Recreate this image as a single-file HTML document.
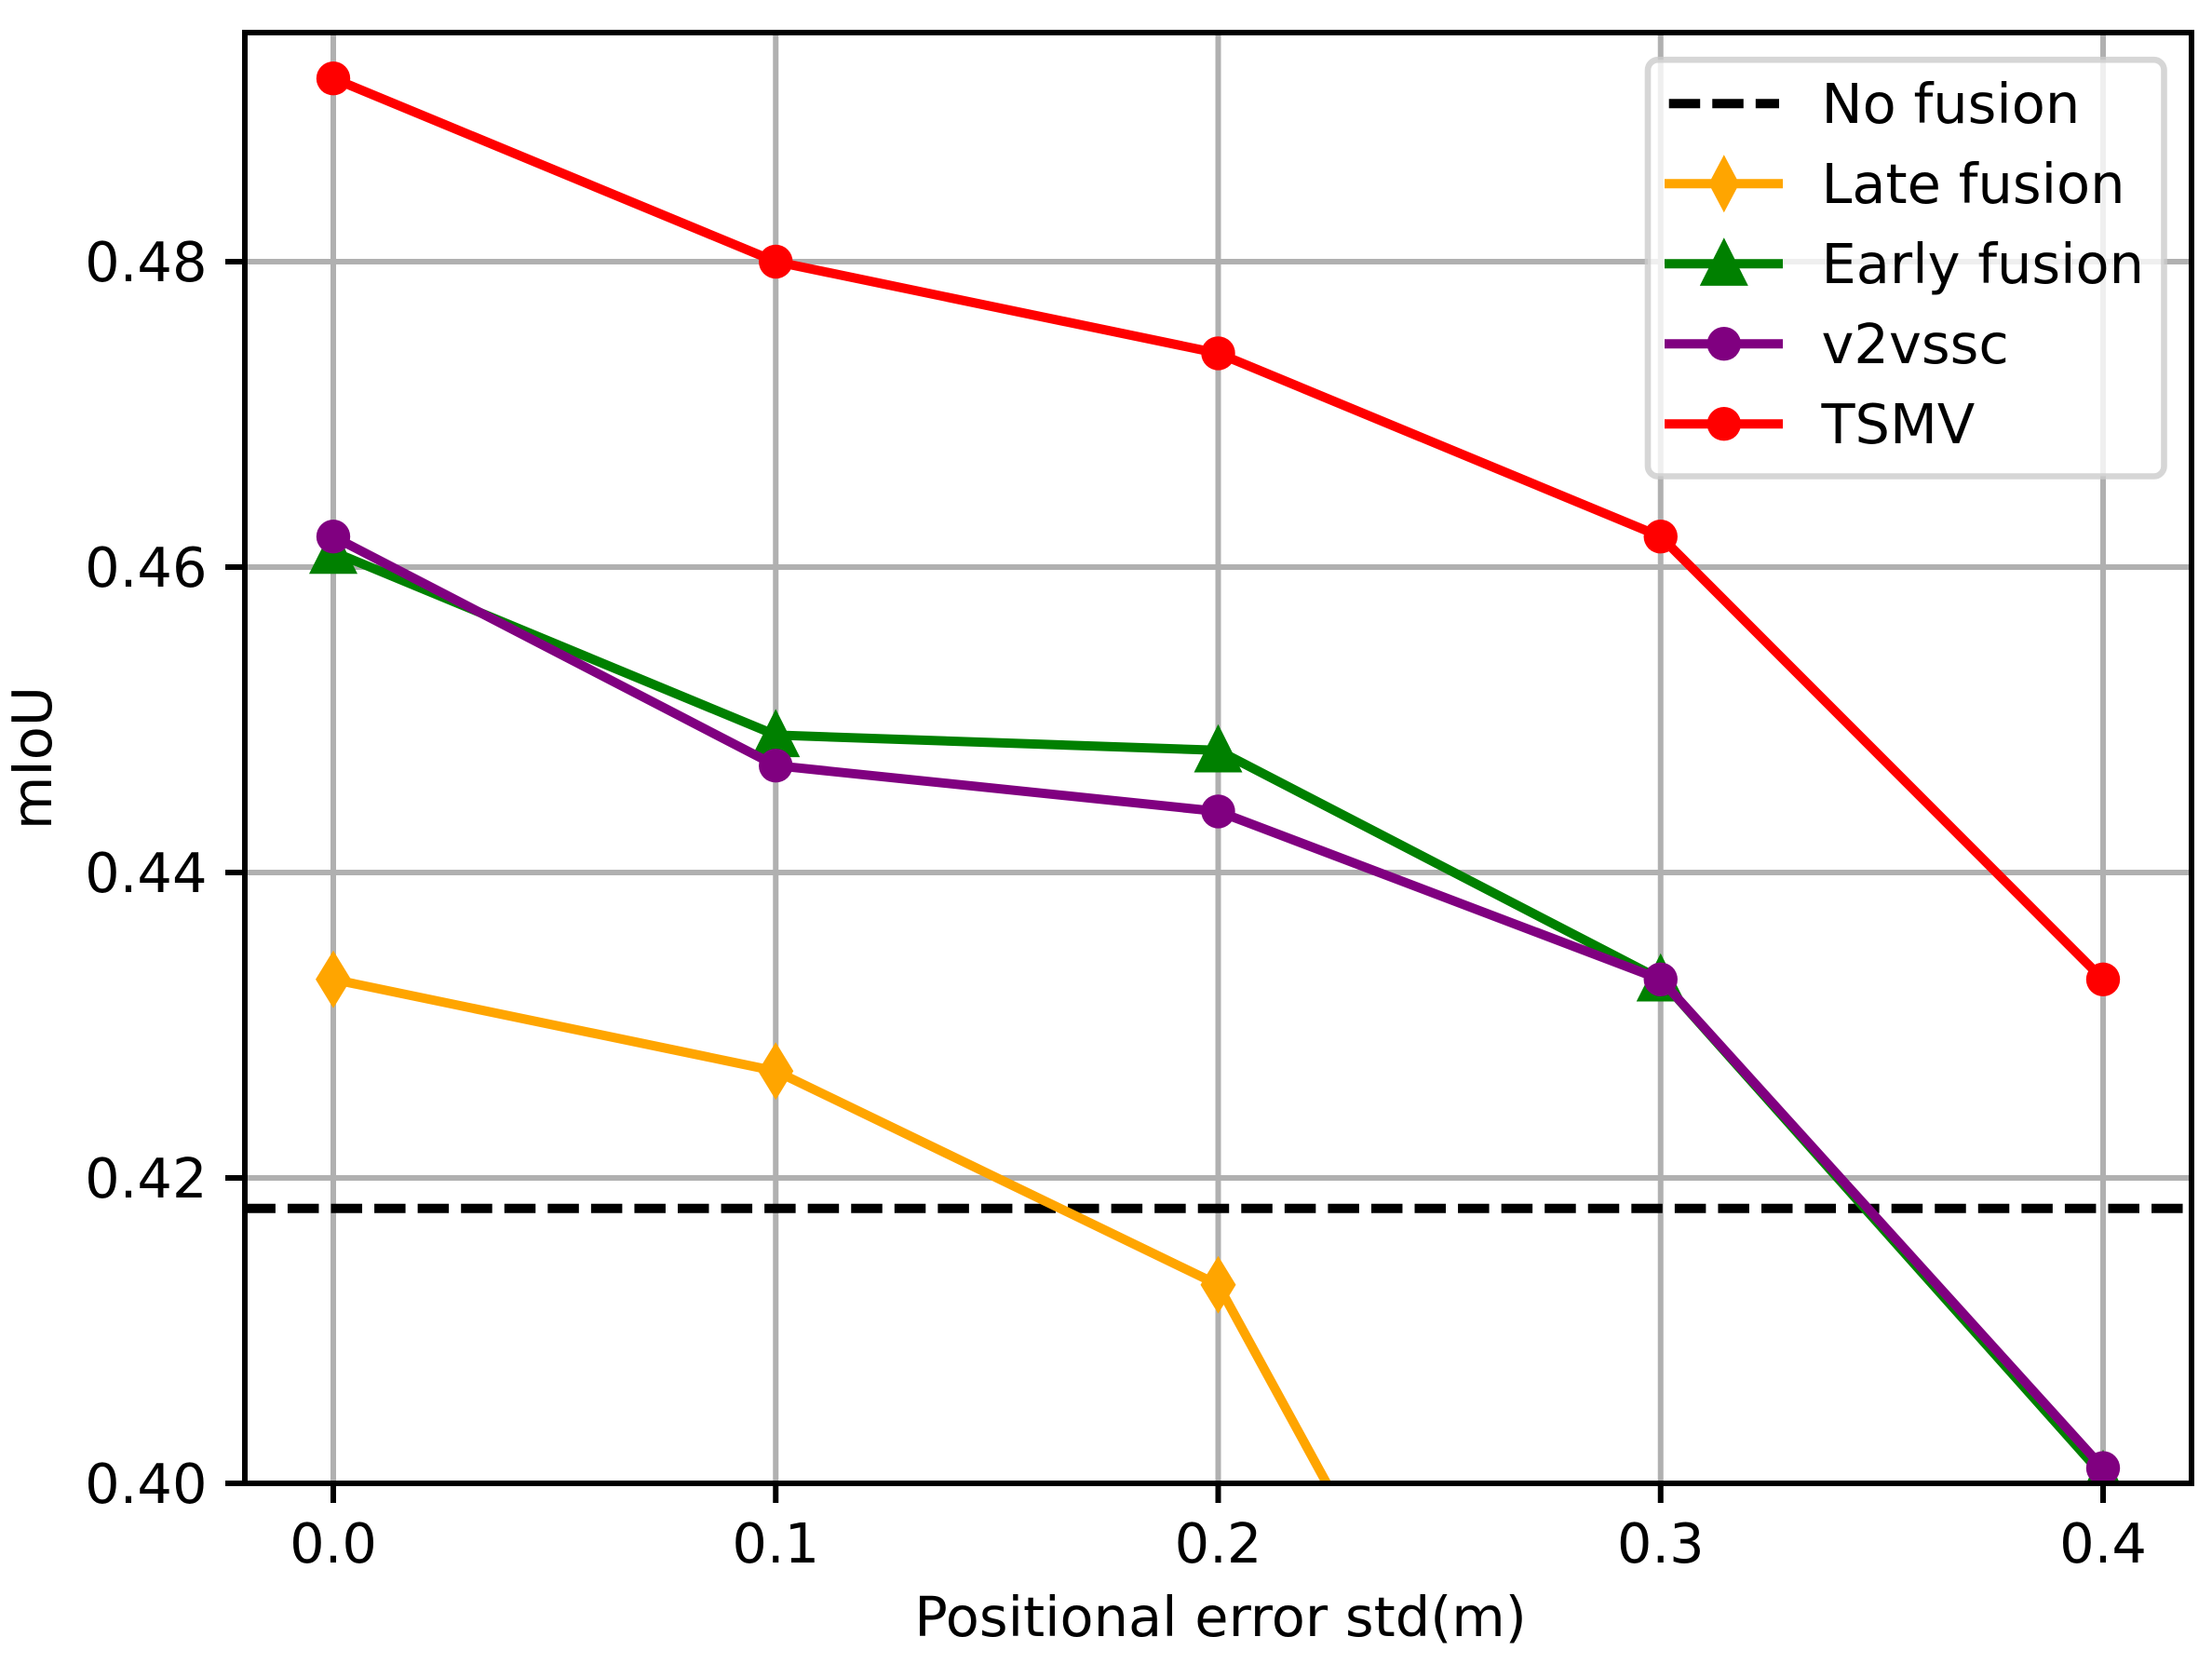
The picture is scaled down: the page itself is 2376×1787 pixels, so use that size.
<!DOCTYPE html>
<html lang="en">
<head>
<meta charset="utf-8">
<title>mIoU vs positional error</title>
<style>
html,body{margin:0;padding:0;background:#fff;width:2376px;height:1787px;overflow:hidden}
svg{display:block}
text{font-family:"DejaVu Sans","Liberation Sans",sans-serif;font-size:59px;fill:#000}
</style>
</head>
<body>
<svg id="chart" xmlns="http://www.w3.org/2000/svg" width="2376" height="1787" viewBox="0 0 2376 1787">
  <defs>
    <clipPath id="plot-clip"><rect x="263" y="35" width="2091" height="1558"></rect></clipPath>
  </defs>
  <rect x="263" y="35" width="2091" height="1558" fill="#fff"></rect>
  <g id="grid"></g>
  <g id="series" clip-path="url(#plot-clip)"></g>
  <g id="spines"></g>
  <g id="ticks"></g>
  <text x="1311" y="1757" text-anchor="middle">Positional error std(m)</text>
  <text transform="translate(55,814) rotate(-90)" text-anchor="middle">mIoU</text>
  <g id="legend"></g>
</svg>
<script>
const xValues = [0.0, 0.1, 0.2, 0.3, 0.4];
const xTickValues = [0.0, 0.1, 0.2, 0.3, 0.4];
const xTickLabels = ['0.0', '0.1', '0.2', '0.3', '0.4'];
const yTickValues = [0.40, 0.42, 0.44, 0.46, 0.48];
const yTickLabels = ['0.40', '0.42', '0.44', '0.46', '0.48'];
const noFusionValue = 0.418;
const lateFusion = [0.433, 0.427, 0.413, 0.36, 0.33];
const earlyFusion = [0.461, 0.449, 0.448, 0.433, 0.4005];
const v2vssc = [0.462, 0.447, 0.444, 0.433, 0.401];
const tsmv = [0.492, 0.48, 0.474, 0.462, 0.433];
const seriesNames = ['No fusion', 'Late fusion', 'Early fusion', 'v2vssc', 'TSMV'];

const NS = 'http://www.w3.org/2000/svg';
const plotLeft = 263, plotRight = 2354, plotTop = 35, plotBottom = 1593;
const xAt0 = 358, xPerUnit = 4752.5, yFloor = 0.40, yPerUnit = 16400;
const lineWidth = 10;
const dashPattern = '33.5 13.06';
function sx(v) { return xAt0 + v * xPerUnit; }
function sy(v) { return plotBottom - (v - yFloor) * yPerUnit; }
function el(tag, attrs, parent) {
  const n = document.createElementNS(NS, tag);
  for (const k in attrs) n.setAttribute(k, attrs[k]);
  parent.appendChild(n);
  return n;
}
function slug(s) { return s.toLowerCase().replace(/\s+/g, '-'); }
function marker(kind, cx, cy, color, parent, diamondHalfWidth) {
  if (kind === 'circle') return el('circle', { cx: cx, cy: cy, r: 18.2, fill: color }, parent);
  if (kind === 'diamond') return el('polygon', { points: [cx, cy - 31, cx + diamondHalfWidth, cy, cx, cy + 31, cx - diamondHalfWidth, cy].join(' '), fill: color }, parent);
  return el('polygon', { points: [cx, cy - 28, cx + 26, cy + 23.7, cx - 26, cy + 23.7].join(' '), fill: color }, parent);
}
/* Trim a series where it leaves through the bottom of the plot. */
function visiblePoints(values) {
  const out = [];
  for (let i = 0; i < values.length; i++) {
    if (values[i] >= yFloor) {
      out.push(sx(xValues[i]) + ',' + sy(values[i]));
    } else if (i > 0 && values[i - 1] >= yFloor) {
      const t = (values[i - 1] - yFloor) / (values[i - 1] - values[i]);
      out.push(sx(xValues[i - 1] + t * (xValues[i] - xValues[i - 1])) + ',' + sy(yFloor));
    }
  }
  return out.join(' ');
}

const grid = document.getElementById('grid');
const ticks = document.getElementById('ticks');
xTickValues.forEach(function (v, i) {
  const g = el('line', { x1: sx(v), x2: sx(v), y1: plotTop, y2: plotBottom, stroke: '#b0b0b0', 'stroke-width': 6 }, grid);
  
  
  const t = el('line', { x1: sx(v), x2: sx(v), y1: plotBottom, y2: plotBottom + 21, stroke: '#000', 'stroke-width': 6 }, ticks);
  
  
  const l = el('text', { x: sx(v), y: 1678, 'text-anchor': 'middle' }, ticks);
  
  
  l.textContent = xTickLabels[i];
});
yTickValues.forEach(function (v, i) {
  const g = el('line', { x1: plotLeft, x2: plotRight, y1: sy(v), y2: sy(v), stroke: '#b0b0b0', 'stroke-width': 6 }, grid);
  
  
  const t = el('line', { x1: plotLeft - 21, x2: plotLeft, y1: sy(v), y2: sy(v), stroke: '#000', 'stroke-width': 6 }, ticks);
  
  
  const l = el('text', { x: 222.5, y: sy(v) + 21, 'text-anchor': 'end' }, ticks);
  
  
  l.textContent = yTickLabels[i];
});

const seriesGroup = document.getElementById('series');
const noFusionLine = el('line', { x1: plotLeft - 0.6, x2: plotRight, y1: sy(noFusionValue), y2: sy(noFusionValue), stroke: '#000', 'stroke-width': lineWidth, 'stroke-dasharray': dashPattern }, seriesGroup);



const plotted = [
  { name: seriesNames[1], values: lateFusion, color: '#ffa500', kind: 'diamond' },
  { name: seriesNames[2], values: earlyFusion, color: '#008000', kind: 'triangle' },
  { name: seriesNames[3], values: v2vssc, color: '#800080', kind: 'circle' },
  { name: seriesNames[4], values: tsmv, color: '#ff0000', kind: 'circle' }
];
plotted.forEach(function (s) {
  const line = el('polyline', { points: visiblePoints(s.values), fill: 'none', stroke: s.color, 'stroke-width': lineWidth, 'stroke-linejoin': 'round' }, seriesGroup);
  
  
  s.values.forEach(function (v, i) {
    if (v < yFloor) return;
    const m = marker(s.kind, sx(xValues[i]), sy(v), s.color, seriesGroup, 19);
    
    
  });
});

const spines = document.getElementById('spines');
const frame = el('rect', { x: plotLeft, y: plotTop, width: plotRight - plotLeft, height: plotBottom - plotTop, fill: 'none', stroke: '#000', 'stroke-width': 6 }, spines);



const legend = document.getElementById('legend');
const box = el('rect', { x: 1770, y: 64.2, width: 554.5, height: 447.3, rx: 11, ry: 11, fill: '#fff', 'fill-opacity': 0.8, stroke: '#ccc', 'stroke-opacity': 0.8, 'stroke-width': 6.6 }, legend);


const legendColors = ['#000', '#ffa500', '#008000', '#800080', '#ff0000'];
const legendKinds = [null, 'diamond', 'triangle', 'circle', 'circle'];
seriesNames.forEach(function (name, i) {
  const y = 111.2 + i * 86;
  const attrs = i === 0
    ? { x1: 1792.7, x2: 1911, y1: y, y2: y, stroke: legendColors[i], 'stroke-width': lineWidth, 'stroke-dasharray': dashPattern }
    : { x1: 1788, x2: 1915, y1: y, y2: y, stroke: legendColors[i], 'stroke-width': lineWidth };
  const h = el('line', attrs, legend);
  
  
  if (legendKinds[i]) {
    const m = marker(legendKinds[i], 1851.8, y, legendColors[i], legend, 16.4);
    
    
  }
  const t = el('text', { x: 1956.5, y: y + 20.8 }, legend);
  
  
  t.textContent = name;
});
</script>
</body>
</html>
